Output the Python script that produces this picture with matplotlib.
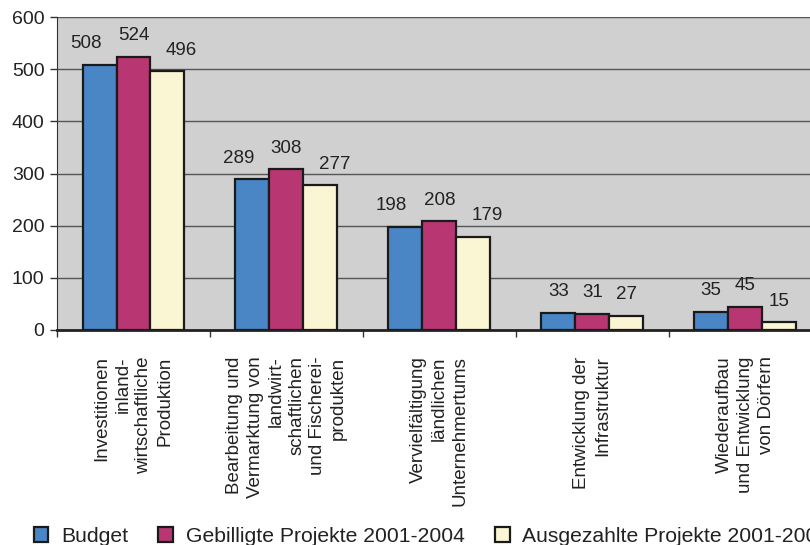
import numpy as np
import matplotlib.pyplot as plt
from matplotlib.patches import Patch

plt.rcParams['font.family'] = ['Liberation Sans', 'DejaVu Sans']

categories = [
    "Investitionen\ninland-\nwirtschaftliche\nProduktion",
    "Bearbeitung und\nVermarktung von\nlandwirt-\nschaftlichen\nund Fischerei-\nprodukten",
    "Vervielfältigung\nländlichen\nUnternehmertums",
    "Entwicklung der\nInfrastruktur",
    "Wiederaufbau\nund Entwicklung\nvon Dörfern",
]
series_names = ["Budget", "Gebilligte Projekte 2001-2004", "Ausgezahlte Projekte 2001-2004"]
budget = [508, 289, 198, 33, 35]
gebilligt = [524, 308, 208, 31, 45]
ausgezahlt = [496, 277, 179, 27, 15]
yticks = [0, 100, 200, 300, 400, 500, 600]

colors = ["#4a86c6", "#b83773", "#faf5d3"]

fig = plt.figure(figsize=(8.1, 5.45), dpi=100)
ax = fig.add_axes([0.0704, 0.3945, 0.944, 0.5743])
ax.set_facecolor("#d0d0d0")

x = np.arange(len(categories))
w = 0.222
all_series = [budget, gebilligt, ausgezahlt]
for k, (vals, col) in enumerate(zip(all_series, colors)):
    xs = x + (k - 1) * w
    ax.bar(xs, vals, w, color=col, edgecolor="#1a1a1a", linewidth=1.6, zorder=3)
    for i, (xi, v) in enumerate(zip(xs, vals)):
        # three-digit labels are spread apart so they don't collide
        wide = max(s[i] for s in all_series) >= 100
        dx = (k - 1) * 10 if wide else 0
        ax.annotate(f"{v}", (xi, v), xytext=(dx, 9), textcoords="offset points",
                    ha="center", va="bottom", fontsize=13.5, color="#222222")

ax.set_xlim(-0.5, 4.5)
ax.set_ylim(0, 600)
ax.set_yticks(yticks)
ax.yaxis.grid(True, color="#555555", linewidth=1.0, zorder=0)
ax.tick_params(axis="y", labelsize=14, length=5, width=1, color="#333333",
               labelcolor="#222222", pad=4)

ax.set_xticks(x)
ax.set_xticklabels(categories, rotation=90, va="top", ha="center",
                   multialignment="right", fontsize=13.5, linespacing=1.3,
                   color="#222222")
ax.tick_params(axis="x", which="major", length=0, pad=19)
ax.set_xticks(np.arange(len(categories) + 1) - 0.5, minor=True)
ax.tick_params(axis="x", which="minor", length=5, width=1, color="#333333")

for side in ["top", "right"]:
    ax.spines[side].set_visible(False)
ax.spines["left"].set_color("#333333")
ax.spines["bottom"].set_color("#222222")
ax.spines["bottom"].set_linewidth(2)

handles = [Patch(facecolor=c, edgecolor="#1a1a1a", linewidth=1.6) for c in colors]
fig.legend(handles, series_names, loc="lower left", bbox_to_anchor=(0.018, -0.037),
           ncol=3, frameon=False, fontsize=15.2, handlelength=0.7, handleheight=0.7,
           handletextpad=0.6, columnspacing=1.43, labelcolor="#222222")

fig.savefig("out.png", dpi=100)
